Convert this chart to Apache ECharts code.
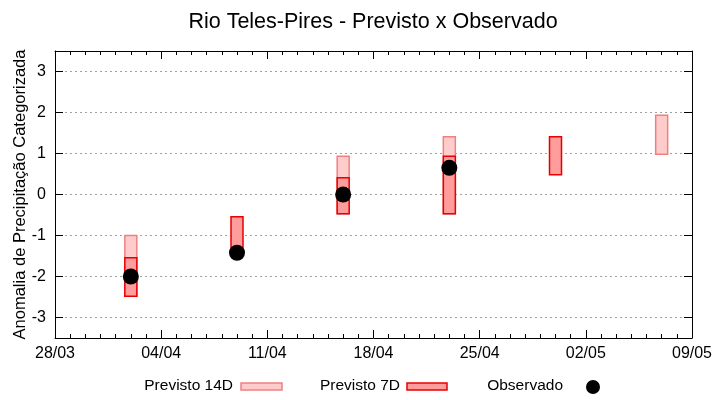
<!DOCTYPE html>
<html><head><meta charset="utf-8">
<script src="https://cdn.jsdelivr.net/npm/echarts@6/dist/echarts.min.js"></script>
<style>html,body{margin:0;padding:0;background:#fff}#c{width:720px;height:400px}</style>
</head><body><div id="c"></div>
<script>
// ---- data ----
const baseDate = '28/03';
const year = 2021;
const xTickLabels = ['28/03','04/04','11/04','18/04','25/04','02/05','09/05'];
const yTickLabels = ['-3','-2','-1','0','1','2','3'];
const dates14 = ['02/04','16/04','23/04','07/05'];
const lo14 = [-2.48, -0.47, -0.47, 0.98];
const hi14 = [-1.00, 0.93, 1.41, 1.93];
const dates7 = ['02/04','09/04','16/04','23/04','30/04'];
const lo7 = [-2.48, -1.42, -0.47, -0.47, 0.48];
const hi7 = [-1.54, -0.54, 0.41, 0.93, 1.41];
const datesObs = ['02/04','09/04','16/04','23/04'];
const obs = [-2.0, -1.42, 0.0, 0.65];

// ---- helpers ----
const DAY = 86400000;
function toDate(s){const [d,m]=s.split('/').map(Number);return Date.UTC(year,m-1,d);}
const t0 = toDate(baseDate);
function dayIdx(s){return Math.round((toDate(s)-t0)/DAY);}
function fmt(v){const d=new Date(t0+v*DAY);const dd=String(d.getUTCDate()).padStart(2,'0');const mm=String(d.getUTCMonth()+1).padStart(2,'0');return dd+'/'+mm;}
const xMax = dayIdx(xTickLabels[xTickLabels.length-1]);

const font = '"Liberation Sans", Arial, sans-serif';
function rectSeries(name, dates, lo, hi, fill, stroke){
  return {
    name, type:'custom', xAxisIndex:0, yAxisIndex:0,
    encode:{x:0,y:[1,2]},
    data: dates.map((d,i)=>[dayIdx(d), lo[i], hi[i]]),
    renderItem:(params, api)=>{
      const x=api.value(0), l=api.value(1), h=api.value(2);
      const p1=api.coord([x,h]), p2=api.coord([x,l]);
      return {type:'rect', shape:{x:p1[0]-6, y:p1[1], width:12, height:p2[1]-p1[1]},
        style:{fill, stroke, lineWidth:1.5}};
    }
  };
}

const chart = echarts.init(document.getElementById('c'), null, {renderer:'canvas'});
const axisCommon = {
  axisLine:{show:true, onZero:false, lineStyle:{color:'#000', width:1}},
  axisTick:{show:true, inside:true, length:8, lineStyle:{color:'#000'}},
};
chart.setOption({
  animation:false,
  backgroundColor:'#fff',
  title:{text:'Rio Teles-Pires - Previsto x Observado', left:368, top:6, textAlign:'center',
    textStyle:{fontFamily:font, fontSize:21.5, fontWeight:'normal', color:'#000'}},
  grid:{left:55, right:28, top:51, bottom:62, containLabel:false, outerBoundsMode:'none'},
  xAxis:[
    Object.assign({}, axisCommon, {type:'value', position:'bottom', min:0, max:xMax, interval:7,
      minorTick:{show:true, splitNumber:7, length:4, lineStyle:{color:'#000'}},
      splitLine:{show:false},
      axisLabel:{show:true, margin:8, formatter:v=>fmt(v), fontFamily:font, fontSize:16, color:'#000'}}),
    Object.assign({}, axisCommon, {type:'value', position:'top', min:0, max:xMax, interval:7,
      minorTick:{show:true, splitNumber:7, length:4, lineStyle:{color:'#000'}},
      splitLine:{show:false}, axisLabel:{show:false}})
  ],
  yAxis:[
    Object.assign({}, axisCommon, {type:'value', position:'left', min:-3.5, max:3.5, splitNumber:7,
      name:'Anomalia de Precipitação Categorizada', nameLocation:'middle', nameGap:26, nameMoveOverlap:false,
      nameTextStyle:{fontFamily:font, fontSize:16.5, color:'#000'},
      splitLine:{show:true, lineStyle:{color:'#a0a0a0', type:[2,3], width:1}},
      axisLabel:{show:true, margin:9, fontFamily:font, fontSize:16, color:'#000',
        showMinLabel:false, showMaxLabel:false,
        formatter:v=>{const s=String(Math.round(v));return (Math.abs(v-Math.round(v))<1e-6 && yTickLabels.includes(s))?s:'';}}}),
    Object.assign({}, axisCommon, {type:'value', position:'right', min:-3.5, max:3.5, splitNumber:7,
      splitLine:{show:false}, axisLabel:{show:false}})
  ],
  series:[
    rectSeries('Previsto 14D', dates14, lo14, hi14, '#ffcccc', '#f08080'),
    rectSeries('Previsto 7D', dates7, lo7, hi7, '#ff9c9c', '#e80000'),
    {name:'Observado', type:'scatter', xAxisIndex:0, yAxisIndex:0, symbol:'circle', symbolSize:16,
      itemStyle:{color:'#000', opacity:1}, data: datesObs.map((d,i)=>[dayIdx(d), obs[i]]), z:5}
  ],
  graphic:[
    {type:'text', right:720-233, top:378, style:{text:'Previsto 14D', fontFamily:font, fontSize:15.5, fill:'#000'}},
    {type:'rect', shape:{x:241, y:383, width:41, height:7}, style:{fill:'#ffcccc', stroke:'#f08080', lineWidth:1.5}},
    {type:'text', right:720-400, top:378, style:{text:'Previsto 7D', fontFamily:font, fontSize:15.5, fill:'#000'}},
    {type:'rect', shape:{x:407, y:383, width:40, height:7}, style:{fill:'#ff9c9c', stroke:'#e80000', lineWidth:1.5}},
    {type:'text', right:720-563, top:378, style:{text:'Observado', fontFamily:font, fontSize:15.5, fill:'#000'}},
    {type:'circle', shape:{cx:593, cy:387, r:7}, style:{fill:'#000'}}
  ]
});
</script></body></html>
